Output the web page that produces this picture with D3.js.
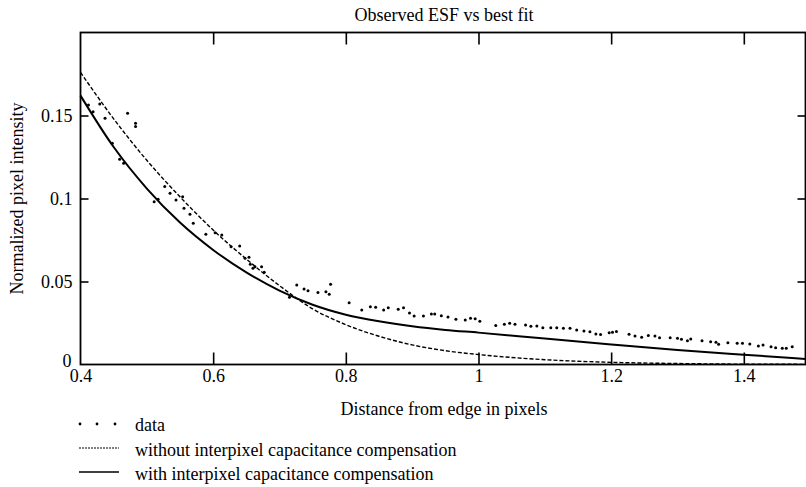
<!DOCTYPE html>
<html lang="en">
<head>
    <meta charset="UTF-8">
    <title>Observed ESF vs best fit</title>
    <script src="https://d3js.org/d3.v7.min.js"></script>
    <style>
        body { margin: 0; background: #fff; }
        svg { display: block; font-family: "Liberation Serif", "Times New Roman", serif; }
        .axis text { font-size: 18px; fill: #000; font-family: "Liberation Serif", serif; }
        .axis line { stroke: #000; stroke-width: 1.6; }
        .axis path { display: none; }
    </style>
</head>
<body>
<div id="chart"></div>
<script>
    // measured ESF samples (distance in pixels, normalized intensity)
    const dataX = [0.412, 0.419, 0.429, 0.437, 0.448, 0.459, 0.465, 0.471, 0.483, 0.483,
                   0.511, 0.517, 0.527, 0.535, 0.544, 0.554, 0.556, 0.565, 0.570, 0.589,
                   0.603, 0.613, 0.627, 0.640, 0.648, 0.654, 0.656, 0.660, 0.663, 0.673,
                   0.677, 0.715, 0.726, 0.737, 0.743, 0.758, 0.770, 0.775, 0.777, 0.805,
                   0.824, 0.837, 0.845, 0.857, 0.864, 0.879, 0.887, 0.896, 0.903, 0.917,
                   0.929, 0.934, 0.944, 0.954, 0.966, 0.980, 0.988, 0.995, 1.002, 1.026,
                   1.039, 1.047, 1.055, 1.071, 1.079, 1.088, 1.097, 1.109, 1.118, 1.128,
                   1.138, 1.148, 1.159, 1.168, 1.177, 1.184, 1.197, 1.202, 1.208, 1.227,
                   1.236, 1.246, 1.256, 1.266, 1.273, 1.289, 1.300, 1.306, 1.315, 1.320,
                   1.337, 1.350, 1.358, 1.362, 1.376, 1.390, 1.398, 1.409, 1.422, 1.429,
                   1.441, 1.448, 1.458, 1.464, 1.473];
    const dataY = [0.1563, 0.1523, 0.1569, 0.1483, 0.1333, 0.1236, 0.1212, 0.1513, 0.1453, 0.1433,
                   0.0981, 0.0995, 0.1072, 0.1031, 0.0991, 0.1011, 0.0941, 0.0905, 0.0851, 0.0784,
                   0.0794, 0.0780, 0.0710, 0.0714, 0.0640, 0.0646, 0.0604, 0.0580, 0.0589, 0.0589,
                   0.0555, 0.0405, 0.0479, 0.0455, 0.0445, 0.0434, 0.0439, 0.0423, 0.0483, 0.0372,
                   0.0328, 0.0348, 0.0345, 0.0328, 0.0342, 0.0333, 0.0342, 0.0310, 0.0292, 0.0292,
                   0.0304, 0.0304, 0.0294, 0.0286, 0.0272, 0.0268, 0.0278, 0.0276, 0.0261, 0.0235,
                   0.0243, 0.0248, 0.0243, 0.0238, 0.0230, 0.0232, 0.0221, 0.0222, 0.0222, 0.0218,
                   0.0218, 0.0208, 0.0202, 0.0198, 0.0184, 0.0180, 0.0192, 0.0194, 0.0199, 0.0182,
                   0.0172, 0.0164, 0.0175, 0.0172, 0.0161, 0.0161, 0.0158, 0.0152, 0.0143, 0.0154,
                   0.0143, 0.0137, 0.0134, 0.0122, 0.0131, 0.0128, 0.0128, 0.0123, 0.0111, 0.0117,
                   0.0107, 0.0101, 0.0098, 0.0098, 0.0107];

    // fitted curves
    const fitX = [0.40, 0.45, 0.50, 0.55, 0.60, 0.65, 0.70, 0.75, 0.80, 0.85,
                  0.90, 0.95, 1.00, 1.10, 1.20, 1.30, 1.40, 1.493];
    const withoutComp = [0.176, 0.148, 0.123, 0.101, 0.081, 0.0635, 0.0475, 0.0335, 0.024, 0.017,
                         0.0118, 0.0083, 0.006, 0.0029, 0.0013, 0.0006, 0.0002, 0.0001];
    const withComp = [0.162, 0.131, 0.106, 0.0855, 0.069, 0.0555, 0.0445, 0.036, 0.030, 0.026,
                      0.023, 0.0208, 0.0192, 0.0156, 0.0121, 0.0088, 0.0059, 0.0033];

    const xTicks = [0.4, 0.6, 0.8, 1, 1.2, 1.4];
    const yTicks = [0, 0.05, 0.1, 0.15];
    const legendLabels = ["data", "without interpixel capacitance compensation", "with interpixel capacitance compensation"];

    const W = 806, H = 487;
    const mLeft = 80.5, mRight = 805.5, mTop = 32.5, mBottom = 364.5;

    const svg = d3.select("#chart").append("svg")
        .attr("width", W).attr("height", H);

    const x = d3.scaleLinear().domain([0.4, 1.493]).range([mLeft, mRight]);
    const y = d3.scaleLinear().domain([0, 0.2]).range([mBottom, mTop]);

    // title
    svg.append("text")
        .attr("x", 444).attr("y", 21)
        .attr("text-anchor", "middle")
        .style("font-size", "18px")
        .text("Observed ESF vs best fit");

    // axes with inward ticks
    const xAxis = svg.append("g").attr("class", "axis")
        .attr("transform", `translate(0,${mBottom})`)
        .call(d3.axisBottom(x).tickValues(xTicks).tickSize(-12).tickSizeOuter(0)
            .tickPadding(5).tickFormat(d => String(d)));
    xAxis.selectAll(".tick").filter(d => d === 0.4).select("line").remove();

    svg.append("g").attr("class", "axis")
        .attr("transform", `translate(0,${mTop})`)
        .call(d3.axisTop(x).tickValues(xTicks.slice(1)).tickSize(-12).tickSizeOuter(0).tickFormat(""));

    const yAxis = svg.append("g").attr("class", "axis")
        .attr("transform", `translate(${mLeft},0)`)
        .call(d3.axisLeft(y).tickValues(yTicks).tickSize(-8).tickSizeOuter(0)
            .tickPadding(8).tickFormat(d => String(d)));
    // the zero label sits a little above the corner so it clears "0.4"
    const zeroTick = yAxis.selectAll(".tick").filter(d => d === 0);
    zeroTick.select("line").remove();
    zeroTick.select("text").attr("y", -4).attr("x", -9);

    svg.append("g").attr("class", "axis")
        .attr("transform", `translate(${mRight},0)`)
        .call(d3.axisRight(y).tickValues(yTicks.slice(1)).tickSize(-8).tickSizeOuter(0).tickFormat(""));

    // frame
    svg.append("rect")
        .attr("x", mLeft).attr("y", mTop)
        .attr("width", mRight - mLeft).attr("height", mBottom - mTop)
        .attr("fill", "none").attr("stroke", "#000").attr("stroke-width", 1.8);

    // axis titles
    svg.append("text")
        .attr("x", 444).attr("y", 415)
        .attr("text-anchor", "middle")
        .style("font-size", "18px")
        .text("Distance from edge in pixels");

    svg.append("text")
        .attr("transform", `translate(23,${(mTop + mBottom) / 2}) rotate(-90)`)
        .attr("text-anchor", "middle")
        .style("font-size", "18px")
        .text("Normalized pixel intensity");

    // curves
    const line = d3.line().curve(d3.curveMonotoneX);
    const plot = svg.append("g");

    plot.append("path")
        .attr("d", line(fitX.map((d, i) => [x(d), y(withoutComp[i])])))
        .attr("fill", "none").attr("stroke", "#000")
        .attr("stroke-width", 1.4).attr("stroke-dasharray", "4,2");

    plot.append("path")
        .attr("d", line(fitX.map((d, i) => [x(d), y(withComp[i])])))
        .attr("fill", "none").attr("stroke", "#000").attr("stroke-width", 2);

    plot.selectAll("circle.pt")
        .data(dataX.map((d, i) => [d, dataY[i]]))
        .enter().append("circle")
        .attr("class", "pt")
        .attr("cx", d => x(d[0]))
        .attr("cy", d => y(d[1]))
        .attr("r", 1.5)
        .attr("fill", "#000");

    // legend
    const legend = svg.append("g");
    const rowY = [431, 456, 480];

    legend.selectAll("circle")
        .data([80, 97, 115])
        .enter().append("circle")
        .attr("cx", d => d).attr("cy", rowY[0] - 7)
        .attr("r", 1.4).attr("fill", "#000");

    legend.append("line")
        .attr("x1", 79).attr("x2", 119).attr("y1", rowY[1] - 8).attr("y2", rowY[1] - 8)
        .attr("stroke", "#000").attr("stroke-width", 1).attr("stroke-dasharray", "2,1");

    legend.append("line")
        .attr("x1", 79).attr("x2", 119).attr("y1", rowY[2] - 8).attr("y2", rowY[2] - 8)
        .attr("stroke", "#000").attr("stroke-width", 1.6);

    legend.selectAll("text")
        .data(legendLabels)
        .enter().append("text")
        .attr("x", 135)
        .attr("y", (d, i) => rowY[i])
        .style("font-size", "18px")
        .text(d => d);
</script>
</body>
</html>
